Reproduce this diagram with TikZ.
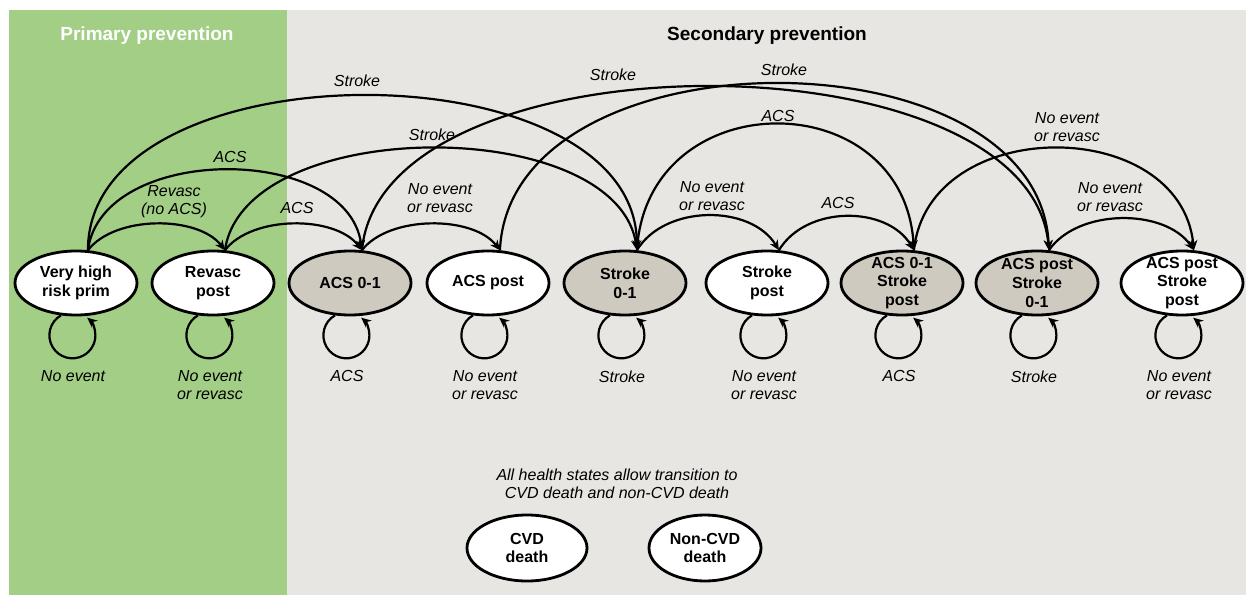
\documentclass[tikz,border=0pt]{standalone}
\usepackage{fontspec}
\setmainfont{Liberation Sans}
\usetikzlibrary{shapes.geometric}
\usetikzlibrary{arrows.meta}

\definecolor{primgreen}{HTML}{A3CE86}
\definecolor{secgray}{HTML}{E7E6E3}
\definecolor{acutegray}{HTML}{CFCAC0}

\begin{document}
\begin{tikzpicture}[x=0.5pt, y=0.5pt,
        state/.style={ellipse, draw=black, line width=1.4pt, minimum width=61pt, minimum height=32pt,
            inner sep=-3pt, align=center, font=\bfseries\fontsize{8}{9.4}\selectfont},
        trans/.style={line width=1.1pt, -{Stealth[length=5pt, width=4.5pt]}},
        lab/.style={align=center, inner sep=0pt, font=\itshape\fontsize{8}{9}\selectfont},
        title/.style={font=\bfseries\fontsize{9.5}{11}\selectfont}]
            \useasboundingbox (0,0) rectangle (1246,595);
            \fill[white] (0,0) rectangle (1246,595);
            \fill[primgreen] (9,0) rectangle (287,585);
            \fill[secgray] (287,0) rectangle (1246,585);
            \node[title, text=white] (prim) at (147,559) {Primary prevention};
            \node[title] (sec) at (767,559) {Secondary prevention};
            % health states
            \foreach \nm/\x/\fil/\txt in {vh/76/white/{Very high\\risk prim}, rp/213/white/{Revasc\\post},
                a01/350/acutegray/{ACS 0-1}, ap/488/white/{ACS post}, s01/625/acutegray/{Stroke\\0-1},
                sp/767/white/{Stroke\\post}, as/902/acutegray/{ACS 0-1\\Stroke\\post},
                ps/1037/acutegray/{ACS post\\Stroke\\0-1}, pp/1182/white/{ACS post\\Stroke\\post}}
            {
                \node[state, fill=\fil] (\nm) at (\x,312) {\txt};
            }
            % staying in the same state
            \foreach \nm/\txt in {vh/{No event}, rp/{No event\\or revasc}, a01/ACS, ap/{No event\\or revasc},
                s01/Stroke, sp/{No event\\or revasc}, as/ACS, ps/Stroke, pp/{No event\\or revasc}}
            {
                \draw[trans] (\nm.-115) arc[start angle=120, end angle=410, radius=23];
                \node[lab, anchor=north] (l\nm) at ([xshift=-1.5pt, yshift=-27pt]\nm.south) {\txt};
            }
            % moving on
            \foreach \a/\b/\dx/\k in {vh/rp/27/35, vh/a01/14/107, vh/s01/0/206, rp/a01/27/35, rp/s01/20/136,
                a01/ap/27/35, a01/ps/20/218, ap/ps/10/222, s01/sp/28/46, s01/as/10/168, sp/as/27/45,
                as/pp/14/136, ps/pp/29/42}
            {
                \draw[trans] (\a.70) .. controls +(\dx,\k) and +(-\dx,\k) .. (\b.70);
            }
            \foreach \nm/\x/\y/\txt in {t1/174/202/{Revasc\\(no ACS)}, t2/230/157/ACS, t3/357/81/Stroke,
                t4/297/208/ACS, t5/432/135/Stroke, t6/440/198/{No event\\or revasc}, t7/613/75/Stroke,
                t8/784/70/Stroke, t9/712/196/{No event\\or revasc}, t10/778/116/ACS, t11/838/203/ACS,
                t12/1067/127/{No event\\or revasc}, t13/1110/197/{No event\\or revasc}}
            {
                \node[lab] (\nm) at (\x,595-\y) {\txt};
            }
            % death
            \node[lab] (note) at (617,111) {All health states allow transition to\\CVD death and non-CVD death};
            \node[state, fill=white, minimum width=60pt, minimum height=33pt] (cvd) at (527,47) {CVD\\death};
            \node[state, fill=white, minimum width=56pt, minimum height=33pt] (ncvd) at (705,47) {Non-CVD\\death};
        \end{tikzpicture}
\end{document}
